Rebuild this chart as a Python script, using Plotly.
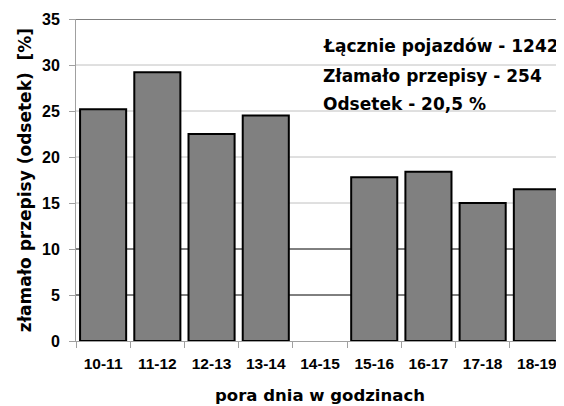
import plotly.graph_objects as go

categories = ["10-11", "11-12", "12-13", "13-14", "14-15", "15-16", "16-17", "17-18", "18-19"]
values = [25.2, 29.2, 22.5, 24.5, None, 17.8, 18.4, 15.0, 16.5]
y_ticks = [0, 5, 10, 15, 20, 25, 30, 35]
dark_grid = [5, 10, 35]
light_grid = [15, 20, 25, 30]
info_lines = ["Łącznie pojazdów - 1242", "Złamało przepisy - 254", "Odsetek - 20,5 %"]
x_title = "pora dnia w godzinach"
y_title = "złamało przepisy (odsetek)  [%]"

FONT = "DejaVu Sans"
TICKFONT = "Liberation Sans, Arial, sans-serif"
fig = go.Figure()
fig.add_trace(go.Bar(
    x=categories, y=values,
    marker=dict(color="#808080", line=dict(color="black", width=2)),
))

for v in light_grid:
    fig.add_shape(type="line", xref="paper", x0=0, x1=1, yref="y", y0=v, y1=v,
                  line=dict(color="#c0c0c0", width=1), layer="below")
for v in dark_grid:
    fig.add_shape(type="line", xref="paper", x0=0, x1=1, yref="y", y0=v, y1=v,
                  line=dict(color="black", width=1), layer="below")

ann_y = [0.915, 0.822, 0.737]
for txt, yy in zip(info_lines, ann_y):
    fig.add_annotation(text="<b>%s</b>" % txt, xref="paper", yref="paper", x=0.502, y=yy,
                       xanchor="left", yanchor="middle", showarrow=False,
                       font=dict(family=FONT, size=17, color="black"))

# page body has an 8px margin: figure is 556x398 so it ends at the window edge
fig.update_layout(
    width=556, height=398,
    margin=dict(l=68, r=0, t=11, b=65),
    paper_bgcolor="white", plot_bgcolor="white",
    bargap=0.15, showlegend=False,
    font=dict(family=FONT, color="black"),
)
fig.update_xaxes(
    type="category", tickson="boundaries", ticks="outside", ticklen=6, tickcolor="#a0a0a0",
    showline=True, linecolor="#a0a0a0", linewidth=1, showgrid=False,
    tickangle=0, automargin=False,
    tickfont=dict(family=TICKFONT, size=15.5, color="black", weight="bold"),
    ticklabelstandoff=8,
    title=dict(text="<b>%s</b>" % x_title, font=dict(family=FONT, size=16.5, color="black"), standoff=18),
)
fig.update_yaxes(
    range=[0, 35], tickvals=y_ticks, ticks="outside", ticklen=6, tickcolor="#a0a0a0",
    showline=True, linecolor="#a0a0a0", linewidth=1,
    showgrid=False, zeroline=False, automargin=False,
    tickfont=dict(family=TICKFONT, size=16, color="black", weight="bold"),
    ticklabelstandoff=6,
    title=dict(text="<b>%s</b>" % y_title, font=dict(family=FONT, size=17, color="black"), standoff=6),
)

fig.write_html("out.html")
